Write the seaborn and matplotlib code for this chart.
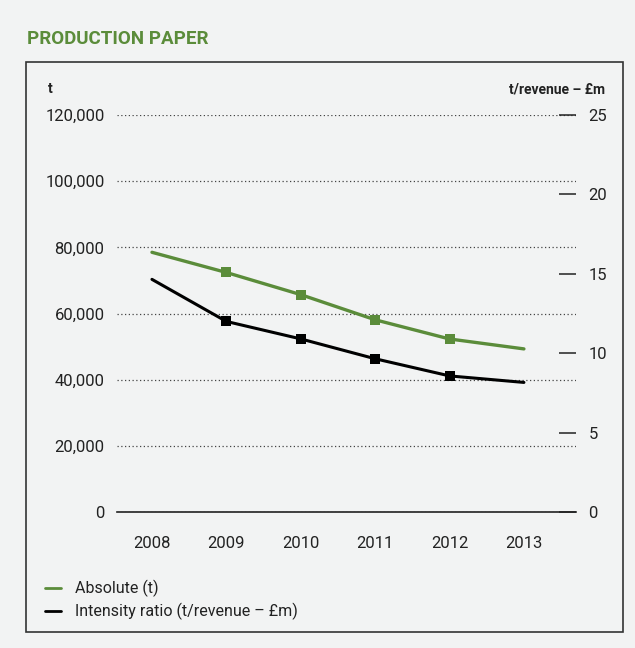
import matplotlib
matplotlib.use("Agg")
import matplotlib.pyplot as plt
import matplotlib.patches as mpatches
from matplotlib.lines import Line2D
import seaborn as sns
import pandas as pd
import numpy as np

# ---- data ----
years = ["2008", "2009", "2010", "2011", "2012", "2013"]
absolute_t = [78500, 72400, 65700, 58100, 52300, 49300]
intensity_ratio = [14.65, 12.0, 10.9, 9.65, 8.57, 8.16]
left_ticks = [0, 20000, 40000, 60000, 80000, 100000, 120000]
left_tick_labels = ["0", "20,000", "40,000", "60,000", "80,000", "100,000", "120,000"]
right_ticks = [0, 5, 10, 15, 20, 25]
right_tick_labels = ["0", "5", "10", "15", "20", "25"]
title = "PRODUCTION PAPER"
left_unit = "t"
right_unit = "t/revenue – £m"
legend_labels = ["Absolute (t)", "Intensity ratio (t/revenue – £m)"]

BG = "#f2f3f3"
GREEN = "#5b8c3a"
TXT = "#222222"

sns.set_theme(style="white")
plt.rcParams["font.family"] = ["Roboto", "DejaVu Sans"]

df = pd.DataFrame({"idx": np.arange(len(years)), "absolute": absolute_t,
                   "intensity": intensity_ratio})

fig = plt.figure(figsize=(6.35, 6.48), dpi=100, facecolor=BG)
ax = fig.add_axes([117/635, 1-512/648, (576-117)/635, (512-115)/648])
ax.set_facecolor(BG)
ax2 = ax.twinx()

sns.lineplot(data=df, x="idx", y="absolute", ax=ax, color=GREEN, lw=2.4,
             marker="s", markersize=7, markeredgewidth=0, markevery=[1, 2, 3, 4])
sns.lineplot(data=df, x="idx", y="intensity", ax=ax2, color="black", lw=2.2,
             marker="s", markersize=7, markeredgewidth=0, markevery=[1, 2, 3, 4])

ax.set_xlim(-0.47, 5.70)
ax.set_ylim(0, 120000)
ax2.set_ylim(0, 25)

ax.set_xticks(df["idx"])
ax.set_xticklabels(years)
ax.set_yticks(left_ticks)
ax.set_yticklabels(left_tick_labels)
ax2.set_yticks(right_ticks)
ax2.set_yticklabels(right_tick_labels)

ax.set_xlabel("")
ax.set_ylabel("")
ax2.set_ylabel("")

for a in (ax, ax2):
    for s in ["top", "left", "right", "bottom"]:
        a.spines[s].set_visible(False)
ax.spines["bottom"].set_visible(True)
ax.spines["bottom"].set_color("#222222")
ax.spines["bottom"].set_linewidth(1.2)

# dotted gridlines
ax.yaxis.grid(True, linestyle=(0, (1, 2)), color="#444444", linewidth=0.9)
ax.xaxis.grid(False)
ax2.grid(False)
ax.set_axisbelow(True)

ax.tick_params(axis="x", length=0, pad=17, labelsize=12, labelcolor=TXT)
ax.tick_params(axis="y", length=0, pad=9, labelsize=12, labelcolor=TXT)
ax2.tick_params(axis="y", direction="in", length=12, width=1.1, color="#222222",
                pad=9, labelsize=12, labelcolor=TXT, right=True)

# title & unit labels
fig.text(27/635, 1-39/648, title, color=GREEN, fontsize=13.5, fontweight="bold",
         ha="left", va="center")
fig.text(48/635, 1-89/648, left_unit, color=TXT, fontsize=10, fontweight="bold",
         ha="left", va="center")
fig.text(605/635, 1-89/648, right_unit, color=TXT, fontsize=10, fontweight="bold",
         ha="right", va="center")

# panel border
fig.patches.append(mpatches.Rectangle((26/635, 1-632/648), (623-26)/635, (632-62)/648,
                                      transform=fig.transFigure, fill=False,
                                      edgecolor="#333333", linewidth=1.2))

handles = [Line2D([0], [0], color=GREEN, lw=2), Line2D([0], [0], color="black", lw=2)]
leg = fig.legend(handles, legend_labels, loc="upper left",
                 bbox_to_anchor=(45/635, 1-580/648), frameon=False,
                 fontsize=11.5, handlelength=1.0, handletextpad=0.85,
                 labelspacing=0.35, borderaxespad=0, borderpad=0)
for t in leg.get_texts():
    t.set_color(TXT)

fig.savefig("out.png", dpi=100, facecolor=BG)
